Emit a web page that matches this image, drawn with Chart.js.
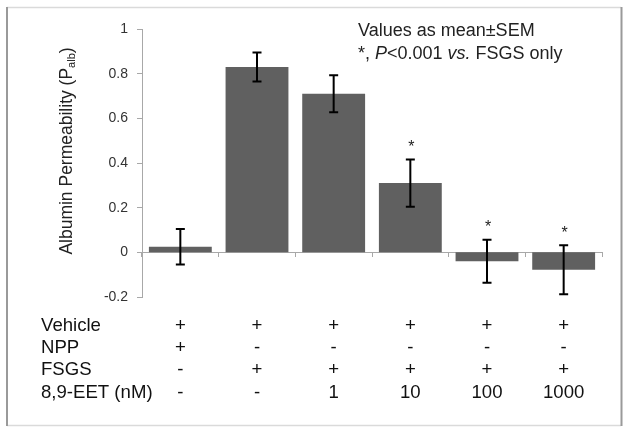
<!DOCTYPE html>
<html>
<head>
<meta charset="utf-8">
<script src="https://cdn.jsdelivr.net/npm/chart.js@4.4.1/dist/chart.umd.min.js"></script>
<style>
html,body{margin:0;padding:0;background:#fff;}
canvas{display:block;}
</style>
</head>
<body>
<canvas id="c" width="629" height="433"></canvas>
<script>
// ---- data ----
const categories = ['NPP', 'FSGS', 'FSGS+EET 1', 'FSGS+EET 10', 'FSGS+EET 100', 'FSGS+EET 1000'];
const meanValues = [0.025, 0.83, 0.71, 0.31, -0.04, -0.078];
const semValues = [0.079, 0.065, 0.083, 0.106, 0.096, 0.11];
const significant = [false, false, false, true, true, true];
const yTickMin = -0.2;
const yTickMax = 1;
const yTickStep = 0.2;
const rowLabels = ['Vehicle', 'NPP', 'FSGS', '8,9-EET (nM)'];
const rowVehicle = ['+', '+', '+', '+', '+', '+'];
const rowNPP = ['+', '-', '-', '-', '-', '-'];
const rowFSGS = ['-', '+', '+', '+', '+', '+'];
const rowEET = ['-', '-', '1', '10', '100', '1000'];
const yTitleMain = 'Albumin Permeability (P';
const yTitleSub = 'alb';
const yTitleEnd = ')';
const noteLine1 = 'Values as mean\u00B1SEM';
const noteLine2 = [['*, ', false], ['P', true], ['<0.001 ', false], ['vs.', true], [' FSGS only', false]];

const FONT = "'Liberation Sans', Arial, sans-serif";
const tableRows = [rowVehicle, rowNPP, rowFSGS, rowEET];

const overlay = {
  id: 'overlay',
  afterDatasetsDraw(chart) {
    const ctx = chart.ctx;
    const ys = chart.scales.y;
    const meta = chart.getDatasetMeta(0);
    ctx.save();
    ctx.strokeStyle = '#000';
    ctx.lineWidth = 2;
    meta.data.forEach((bar, i) => {
      const x = bar.x;
      const top = ys.getPixelForValue(meanValues[i] + semValues[i]);
      const bot = ys.getPixelForValue(meanValues[i] - semValues[i]);
      ctx.beginPath();
      ctx.moveTo(x, top); ctx.lineTo(x, bot);
      ctx.moveTo(x - 4.5, top); ctx.lineTo(x + 4.5, top);
      ctx.moveTo(x - 4.5, bot); ctx.lineTo(x + 4.5, bot);
      ctx.stroke();
      if (significant[i]) {
        ctx.fillStyle = '#222';
        ctx.font = '16px ' + FONT;
        ctx.textAlign = 'center';
        ctx.textBaseline = 'middle';
        ctx.fillText('*', x + 1, top - 12);
      }
    });
    ctx.restore();
  },
  afterDraw(chart) {
    const ctx = chart.ctx;
    const xs = chart.scales.x;
    ctx.save();
    // frame
    ctx.lineWidth = 1.5;
    ctx.strokeStyle = '#dadada';
    ctx.beginPath(); ctx.moveTo(7, 7.5); ctx.lineTo(621, 7.5); ctx.stroke();
    ctx.beginPath(); ctx.moveTo(7, 425.5); ctx.lineTo(621, 425.5); ctx.stroke();
    ctx.strokeStyle = '#9a9a9a';
    ctx.lineWidth = 2;
    ctx.beginPath(); ctx.moveTo(7, 7); ctx.lineTo(7, 426); ctx.stroke();
    ctx.beginPath(); ctx.moveTo(621.5, 7); ctx.lineTo(621.5, 426); ctx.stroke();

    // y title with subscript
    ctx.save();
    ctx.translate(66, 151);
    ctx.rotate(-Math.PI / 2);
    ctx.fillStyle = '#222';
    ctx.textBaseline = 'alphabetic';
    ctx.textAlign = 'left';
    const mainFont = '17.5px ' + FONT, subFont = '11px ' + FONT;
    ctx.font = mainFont; const w1 = ctx.measureText(yTitleMain).width;
    const w3 = ctx.measureText(yTitleEnd).width;
    ctx.font = subFont; const w2 = ctx.measureText(yTitleSub).width;
    let x0 = -(w1 + w2 + w3) / 2;
    const base = 6;
    ctx.font = mainFont; ctx.fillText(yTitleMain, x0, base);
    ctx.font = subFont; ctx.fillText(yTitleSub, x0 + w1, base + 3);
    ctx.font = mainFont; ctx.fillText(yTitleEnd, x0 + w1 + w2, base);
    ctx.restore();

    // note
    ctx.fillStyle = '#222';
    ctx.textAlign = 'left';
    ctx.textBaseline = 'middle';
    ctx.font = '18px ' + FONT;
    ctx.fillText(noteLine1, 358, 31);
    let nx = 358;
    noteLine2.forEach(([t, it]) => {
      ctx.font = (it ? 'italic ' : '') + '18px ' + FONT;
      ctx.fillText(t, nx, 54);
      nx += ctx.measureText(t).width;
    });

    // table
    const rowY = [326, 348, 370, 393];
    ctx.font = '18.6px ' + FONT;
    ctx.fillStyle = '#111';
    rowLabels.forEach((lab, r) => {
      ctx.textAlign = 'left';
      ctx.fillText(lab, 41, rowY[r]);
      ctx.textAlign = 'center';
      tableRows[r].forEach((v, i) => {
        ctx.fillText(v, xs.getPixelForValue(i), rowY[r]);
      });
    });
    ctx.restore();
  }
};

new Chart(document.getElementById('c'), {
  type: 'bar',
  data: {
    labels: categories,
    datasets: [{
      data: meanValues,
      backgroundColor: '#606060',
      borderWidth: 0,
      barPercentage: 0.82,
      categoryPercentage: 1.0
    }]
  },
  options: {
    responsive: false,
    animation: false,
    events: [],
    layout: { padding: { left: 0, right: 27, top: 29, bottom: 136 } },
    plugins: { legend: { display: false }, tooltip: { enabled: false } },
    scales: {
      x: {
        type: 'category',
        position: { y: 0 },
        ticks: { display: false },
        grid: { drawOnChartArea: false, drawTicks: true, tickLength: 4, color: '#a8a8a8', offset: true },
        border: { color: '#a8a8a8' },
        afterFit(s) { s.height = 0; }
      },
      y: {
        min: yTickMin,
        max: yTickMax,
        ticks: {
          stepSize: yTickStep,
          padding: 9,
          color: '#333',
          font: { size: 14, family: FONT },
          callback: v => String(Math.round(v * 10) / 10)
        },
        grid: { drawOnChartArea: false, drawTicks: true, tickLength: 5, color: '#a8a8a8' },
        border: { color: '#a8a8a8' },
        afterFit(s) { s.width = 142; }
      }
    }
  },
  plugins: [overlay]
});
</script>
</body>
</html>
